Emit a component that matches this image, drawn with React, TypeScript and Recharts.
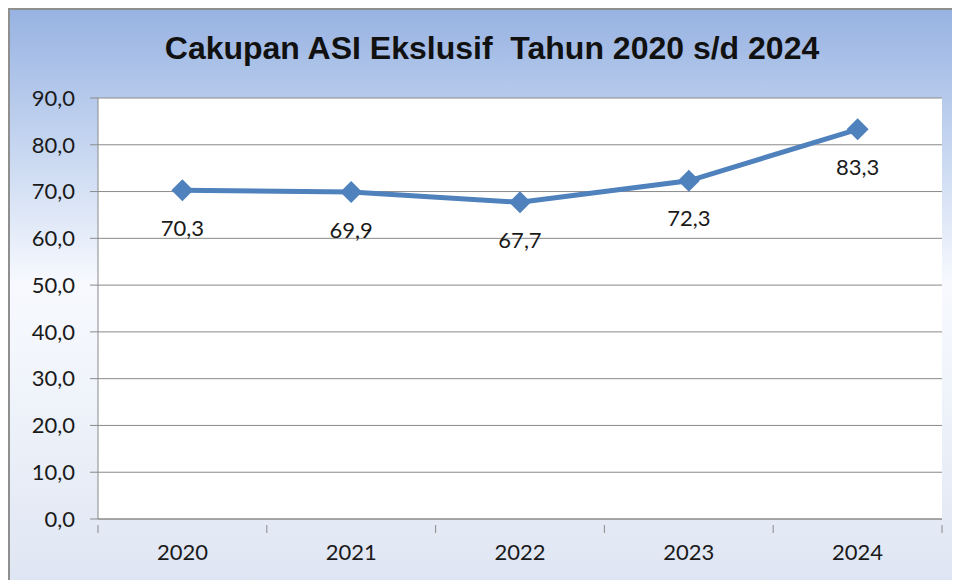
import React from 'react';
import { LineChart, Line, XAxis, YAxis, CartesianGrid, LabelList } from 'recharts';

const years = ['2020', '2021', '2022', '2023', '2024'];
const coverage = [70.3, 69.9, 67.7, 72.3, 83.3];
const yTicks = [0, 10, 20, 30, 40, 50, 60, 70, 80, 90];

const data = years.map((year, i) => ({ year, value: coverage[i] }));

const W = 952;
const H = 572;
const M = { top: 90, right: 18, left: 0, bottom: 0 };
const Y_W = 90;
const X_H = 61;
const band = (W - M.left - M.right - Y_W) / years.length;

const fmt = (v: number) => v.toFixed(1).replace('.', ',');
const font = 'Lato, "Open Sans", sans-serif';
const gridGray = '#8a8a8a';
const blue = '#4f81bd';

const Diamond = (props: any) => {
  const { cx, cy } = props;
  if (cx == null || cy == null) return null;
  const r = 11;
  return <path d={`M${cx},${cy - r} L${cx + r},${cy} L${cx},${cy + r} L${cx - r},${cy} Z`} fill={blue} />;
};

const XTick = (props: any) => {
  const { x, y, payload, index } = props;
  const axisY = y - 14;
  const left = x - band / 2;
  return (
    <g>
      <line x1={left} y1={axisY} x2={left} y2={axisY + 8} stroke={gridGray} />
      {index === years.length - 1 && (
        <line x1={left + band} y1={axisY} x2={left + band} y2={axisY + 8} stroke={gridGray} />
      )}
      <text x={x} y={y + 21} textAnchor="middle" fontSize={22} fill="#1a1a1a" fontFamily={font}>
        {payload.value}
      </text>
    </g>
  );
};

export default function App() {
  return (
    <div
      style={{
        position: 'relative',
        width: W,
        height: H,
        borderLeft: '2px solid #8f8f8f',
        borderTop: '2px solid #8f8f8f',
        boxSizing: 'border-box',
        background: 'linear-gradient(to bottom, #98b3e2 0%, #c2d3ef 22%, #f7f9fe 48%, #f3f6fc 60%, #dfe6f3 100%)',
        overflow: 'hidden',
      }}
    >
      <div
        style={{
          position: 'absolute',
          top: 20,
          left: 8,
          width: W - 4,
          textAlign: 'center',
          fontFamily: '"Liberation Sans", Arial, sans-serif',
          fontWeight: 'bold',
          fontSize: 32,
          color: '#111',
        }}
      >
        Cakupan ASI Ekslusif&nbsp;&nbsp;Tahun 2020 s/d 2024
      </div>
      <LineChart width={W - 2} height={H - 2} data={data} margin={{ top: M.top - 2, right: M.right, left: M.left, bottom: M.bottom }}>
        <CartesianGrid vertical={false} stroke={gridGray} fill="#ffffff" />
        <XAxis
          dataKey="year"
          scale="band"
          axisLine={{ stroke: gridGray }}
          tickLine={false}
          height={X_H}
          tick={<XTick />}
          tickMargin={14}
          interval={0}
        />
        <YAxis
          domain={[0, 90]}
          ticks={yTicks}
          width={Y_W - 2}
          axisLine={{ stroke: gridGray }}
          tickLine={{ stroke: gridGray }}
          tickSize={8}
          tickMargin={15}
          tickFormatter={fmt}
          tick={{ fontSize: 22, fill: '#1a1a1a', fontFamily: font }}
          interval={0}
        />
        <Line
          type="linear"
          dataKey="value"
          stroke={blue}
          strokeWidth={5}
          dot={<Diamond />}
          activeDot={false}
          isAnimationActive={false}
        >
          <LabelList
            dataKey="value"
            position="bottom"
            offset={30}
            formatter={(v: any) => fmt(Number(v))}
            style={{ fontSize: 22, fill: '#1a1a1a', fontFamily: font }}
          />
        </Line>
      </LineChart>
    </div>
  );
}
